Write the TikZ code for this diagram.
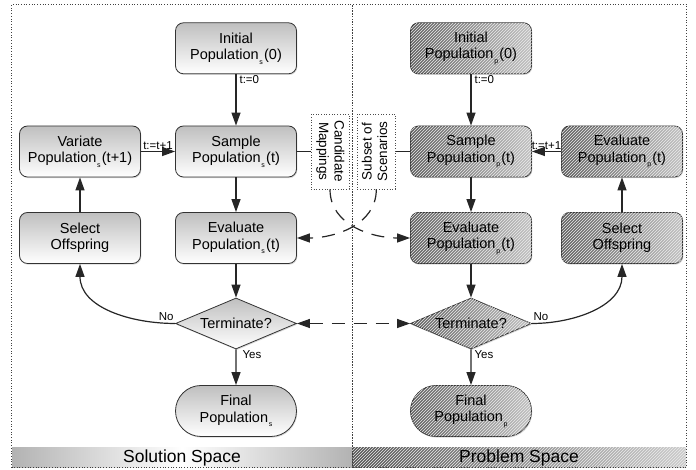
\documentclass[tikz,border=0pt]{standalone}
\usepackage{fontspec}
\setmainfont{Liberation Sans}
\usetikzlibrary{arrows.meta,shapes.geometric,shapes.misc,shadows,patterns}
\newcommand\lsub[1]{\hspace{0.8pt}\raisebox{-4.5pt}{\fontsize{7}{7}\selectfont #1}\hspace{1.2pt}}
\begin{document}
\begin{tikzpicture}[x=1pt,y=1pt,
  >={Triangle[length=13pt,width=9pt]},
  base/.style={draw=black!80, line width=0.8pt, minimum width=121pt, minimum height=51pt,
    inner sep=0pt, align=center, font=\fontsize{14.5}{16.5}\selectfont,
    drop shadow={shadow xshift=0.8pt, shadow yshift=-1.2pt, opacity=0.3}},
  lfill/.style={top color=black!25, bottom color=white},
  pfill/.style={left color=black!62, right color=black!24,
    postaction={pattern=north east lines, pattern color=black!8}},
  boxs/.style={base, rounded corners=8pt},
  dias/.style={base, diamond, aspect=2.37},
  ends/.style={base, rounded rectangle},
  arr/.style={line width=1.2pt, draw=black!85, ->},
  darr/.style={line width=1.2pt, draw=black!85, dash pattern=on 13pt off 9pt},
  lbl/.style={font=\fontsize{11.5}{13}\selectfont, inner sep=1pt},
  sidebox/.style={draw=black!70, dotted, line width=0.7pt, fill=white, minimum width=38pt,
    minimum height=75pt, inner sep=0pt, font=\fontsize{13.5}{15.5}\selectfont},
  frame/.style={draw=black!75, dotted, line width=0.7pt},
  barbox/.style={minimum width=#1, minimum height=20pt, inner sep=0pt, font=\fontsize{17.5}{20}\selectfont}
]
\useasboundingbox (0,0) rectangle (696,470);

% bars
\node[barbox=340pt, left color=black!30, right color=black!30, middle color=white] (solbar) at (182,12) {Solution Space};
\node[barbox=334pt, left color=black!66, right color=black!20,
  postaction={pattern=north east lines, pattern color=black!8}] (probbar) at (519,12) {Problem Space};

% frames
\draw[frame] (11.5,2.5) rectangle (352,465.5);
\draw[frame] (352,2.5) rectangle (686.5,465.5);

% solution space nodes
\node[boxs, lfill] (inits) at (236,421.7) {Initial\\Population\lsub{s}(0)};
\node[boxs, lfill] (samples) at (236,318.5) {Sample\\Population\lsub{s}(t)};
\node[boxs, lfill] (variate) at (80,318.5) {Variate\\Population\lsub{s}(t+1)};
\node[boxs, lfill] (evals) at (236,232) {Evaluate\\Population\lsub{s}(t)};
\node[boxs, lfill] (selects) at (80,232) {Select\\Offspring};
\node[dias, lfill] (terms) at (236,146.5) {Terminate?};
\node[ends, lfill] (finals) at (236,59) {Final\\Population\lsub{s}};

% problem space nodes
\node[boxs, pfill] (initp) at (471,421.7) {Initial\\Population\lsub{p}(0)};
\node[boxs, pfill] (samplep) at (471,318.5) {Sample\\Population\lsub{p}(t)};
\node[boxs, pfill] (evalr) at (622,318.5) {Evaluate\\Population\lsub{p}(t)};
\node[boxs, pfill] (evalp) at (471,232) {Evaluate\\Population\lsub{p}(t)};
\node[boxs, pfill] (selectp) at (622,232) {Select\\Offspring};
\node[dias, pfill] (termp) at (471,146.5) {Terminate?};
\node[ends, pfill] (finalp) at (471,59) {Final\\Population\lsub{p}};

% side boxes
\node[sidebox] (cand) at (330,318.5) {\rotatebox{-90}{\begin{tabular}{@{}c@{}}Candidate\\Mappings\end{tabular}}};
\node[sidebox] (subset) at (376.3,318.5) {\rotatebox{90}{\begin{tabular}{@{}c@{}}Subset of\\Scenarios\end{tabular}}};

% solution connectors
\draw[arr] (inits) -- node[lbl, anchor=north west, pos=0, xshift=2pt] {t:=0} (samples);
\draw[arr] (variate) -- node[lbl, above] {t:=t+1} (samples);
\draw[arr] (samples) -- (evals);
\draw[arr] (selects) -- (variate);
\draw[arr] (evals) -- (terms);
\draw[arr] (terms) -- node[lbl, anchor=north west, pos=0, xshift=5pt] {Yes} (finals);
\draw[arr] (terms.west) to[out=180, in=-90] node[lbl, anchor=south east, pos=0, yshift=1pt] {No} (selects.south);

% problem connectors
\draw[arr] (initp) -- node[lbl, anchor=north west, pos=0, xshift=2pt] {t:=0} (samplep);
\draw[arr] (evalr) -- node[lbl, above] {t:=t+1} (samplep);
\draw[arr] (samplep) -- (evalp);
\draw[arr] (selectp) -- (evalr);
\draw[arr] (evalp) -- (termp);
\draw[arr] (termp) -- node[lbl, anchor=north west, pos=0, xshift=2pt] {Yes} (finalp);
\draw[arr] (termp.east) to[out=0, in=-90] node[lbl, anchor=south west, pos=0, yshift=1pt] {No} (selectp.south);

% links to side boxes
\draw[line width=1.2pt, draw=black!85] (samples) -- (cand);
\draw[line width=1.2pt, draw=black!85] (subset) -- (samplep);

% dashed crossing links
\draw[darr, ->] (cand.south) to[out=-90, in=180] (evalp.west);
\draw[darr, ->] (subset.south) to[out=-90, in=0] (evals.east);
\draw[darr, <->] (terms.east) -- (termp.west);
\end{tikzpicture}
\end{document}
